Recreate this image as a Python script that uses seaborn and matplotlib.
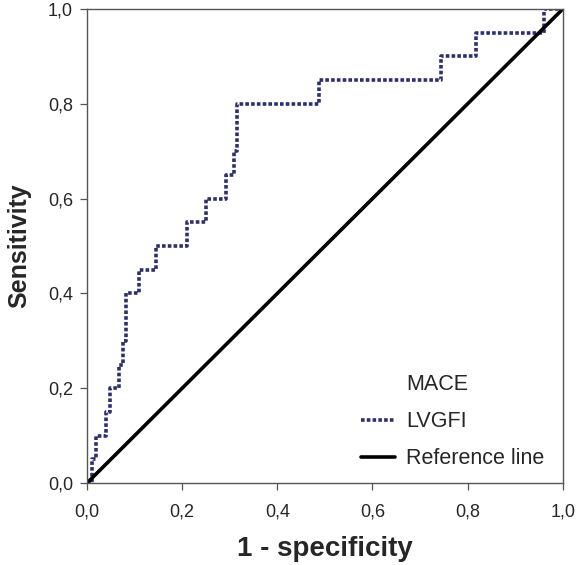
import pandas as pd
import matplotlib.pyplot as plt
import seaborn as sns
from matplotlib.lines import Line2D

# ROC points for LVGFI (1 - specificity, sensitivity)
fpr = [0.0, 0.010, 0.020, 0.040, 0.048, 0.067, 0.076, 0.083, 0.110, 0.145,
       0.210, 0.250, 0.293, 0.310, 0.316, 0.488, 0.744, 0.817, 0.960, 1.0]
tpr = [0.0, 0.05, 0.10, 0.15, 0.20, 0.25, 0.30, 0.40, 0.45, 0.50,
       0.55, 0.60, 0.65, 0.70, 0.80, 0.85, 0.90, 0.95, 1.0, 1.0]

ref_x = [0.0, 1.0]
ref_y = [0.0, 1.0]

ticks = [0.0, 0.2, 0.4, 0.6, 0.8, 1.0]
tick_labels = ["0,0", "0,2", "0,4", "0,6", "0,8", "1,0"]

curve_color = "#2d2f6e"
dot_style = (0, (1.0, 0.6))

sns.set_style("ticks")
plt.rcParams['font.family'] = ['Liberation Sans', 'DejaVu Sans']

fig = plt.figure(figsize=(5.76, 5.65), dpi=100)
ax = fig.add_axes([0.151, 0.145, 0.826, 0.839])

df = pd.DataFrame({'fpr': fpr, 'tpr': tpr})
sns.lineplot(x='fpr', y='tpr', data=df, ax=ax, color=curve_color,
             drawstyle='steps-post', sort=False, estimator=None,
             linewidth=2.6)
ax.lines[-1].set_linestyle(dot_style)
ax.lines[-1].set_dash_capstyle('butt')

sns.lineplot(x=ref_x, y=ref_y, ax=ax, color='black', linewidth=2.6)

ax.set_xlim(0, 1)
ax.set_ylim(0, 1)
ax.set_xticks(ticks)
ax.set_xticklabels(tick_labels)
ax.set_yticks(ticks)
ax.set_yticklabels(tick_labels)
ax.tick_params(labelsize=13, length=5, width=0.9, color='#555555')
ax.tick_params(axis='x', pad=10)
ax.tick_params(axis='y', pad=5)
for s in ax.spines.values():
    s.set_visible(True)
    s.set_color('#555555')
    s.set_linewidth(1.0)

ax.set_xlabel("1 - specificity", fontsize=20, fontweight='bold', labelpad=11)
ax.set_ylabel("Sensitivity", fontsize=18, fontweight='bold', labelpad=12)

handles = [Line2D([], [], color='none'),
           Line2D([], [], color=curve_color, linewidth=2.6, linestyle=dot_style),
           Line2D([], [], color='black', linewidth=2.6)]
labels = ["MACE", "LVGFI", "Reference line"]
ax.legend(handles, labels, loc='lower left', bbox_to_anchor=(0.535, -0.012),
          frameon=False, fontsize=15.5, handlelength=1.6, handletextpad=0.5,
          labelspacing=0.75)

fig.savefig("out.png", dpi=100)
